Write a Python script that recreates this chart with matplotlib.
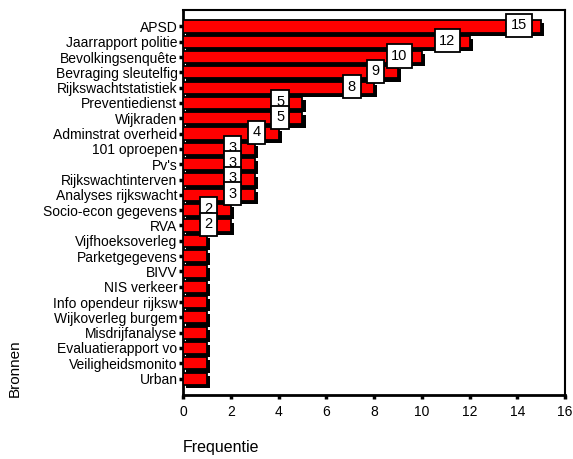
import matplotlib
matplotlib.use("Agg")
import matplotlib.pyplot as plt
import matplotlib.patheffects as pe

plt.rcParams['font.family'] = ['Liberation Sans', 'DejaVu Sans']

# bronnen en hun frequentie
bronnen = [
    "APSD", "Jaarrapport politie", "Bevolkingsenquête", "Bevraging sleutelfig",
    "Rijkswachtstatistiek", "Preventiedienst", "Wijkraden", "Adminstrat overheid",
    "101 oproepen", "Pv's", "Rijkswachtinterven", "Analyses rijkswacht",
    "Socio-econ gegevens", "RVA", "Vijfhoeksoverleg", "Parketgegevens", "BIVV",
    "NIS verkeer", "Info opendeur rijksw", "Wijkoverleg burgem", "Misdrijfanalyse",
    "Evaluatierapport vo", "Veiligheidsmonito", "Urban",
]
frequentie = [15, 12, 10, 9, 8, 5, 5, 4, 3, 3, 3, 3, 2, 2, 1, 1, 1, 1, 1, 1, 1, 1, 1, 1]

fig = plt.figure(figsize=(5.73, 4.59), dpi=100)
ax = fig.add_axes([0.3194, 0.1394, 0.6667, 0.8388])

pos = list(range(len(bronnen)))
bars = ax.barh(pos, frequentie, height=0.8, color='#ff0000', edgecolor='black',
               linewidth=1.3, zorder=3)
for b in bars:
    b.set_path_effects([pe.SimplePatchShadow(offset=(2.3, -2.3), shadow_rgbFace='black', alpha=1),
                        pe.Normal()])

# waardelabels in witte kaders
for p, v in zip(pos, frequentie):
    if v < 2:
        continue
    ax.annotate(str(v), xy=(v, p), xytext=(-16, 0.8), textcoords='offset points',
                ha='center', va='center', fontsize=10.5, zorder=5,
                bbox=dict(boxstyle='square,pad=0.32', fc='white', ec='black', lw=1.3))

ax.set_xlim(0, 16)
ax.set_ylim(len(bronnen) - 1 + 1.07, -1.07)
ax.set_xticks(range(0, 17, 2))
ax.set_yticks(pos)
ax.set_yticklabels(bronnen, fontsize=10)
ax.tick_params(axis='x', labelsize=10, length=3, width=2.5, pad=4)
ax.tick_params(axis='y', length=3, width=2.5, pad=1)

for side in ['left', 'bottom']:
    ax.spines[side].set_linewidth(2)
for side in ['top', 'right']:
    ax.spines[side].set_linewidth(1.5)

fig.text(0.3194, 0.008, "Frequentie", fontsize=11.5, ha='left', va='bottom')
fig.text(0.026, 0.198, "Bronnen", fontsize=11, rotation=90, ha='center', va='center',
         family=['Liberation Sans Narrow', 'Liberation Sans', 'DejaVu Sans'])

fig.savefig("out.png", dpi=100)
